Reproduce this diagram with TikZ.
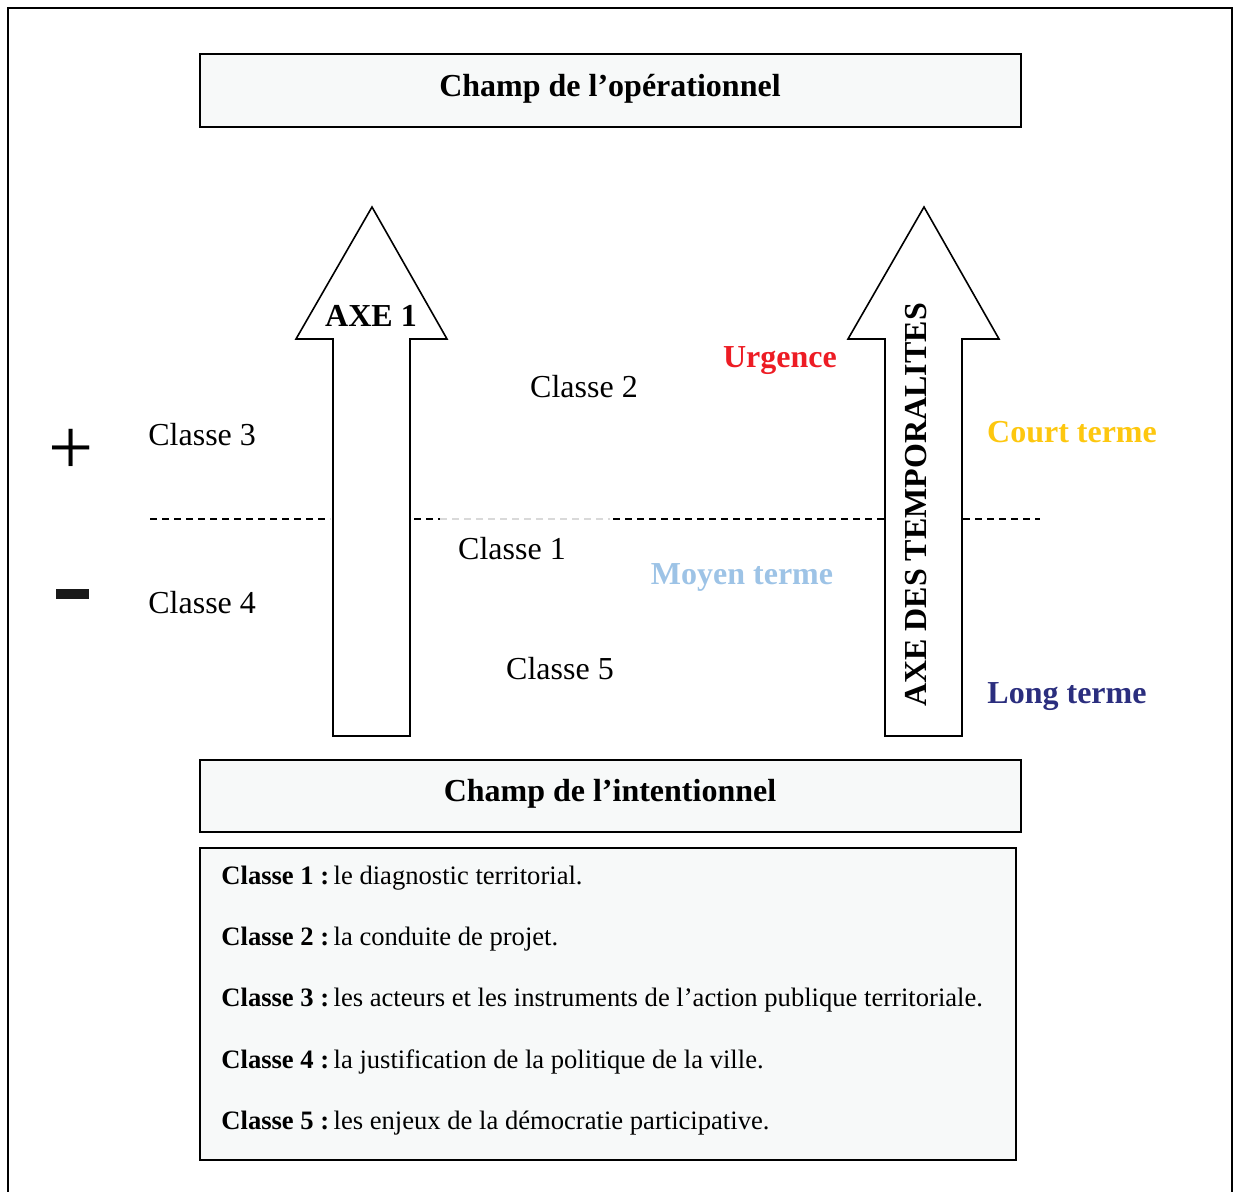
\documentclass[tikz,border=0pt]{standalone}
\usepackage{fontspec}
\setmainfont{Liberation Serif}
\definecolor{boxfill}{HTML}{F7F9F9}
\definecolor{urg}{HTML}{ED1C24}
\definecolor{court}{HTML}{FDC70F}
\definecolor{moyen}{HTML}{9DC3E6}
\definecolor{long}{HTML}{2B2E7E}
\definecolor{lightdash}{HTML}{D9D9D9}
\tikzset{
  fieldbox/.style={draw=black, line width=1.2pt, fill=boxfill},
  bigarrow/.style={draw=black, line width=0.8pt, fill=white, line join=miter},
  lbl/.style={inner sep=0pt, font=\fontsize{16}{19}\selectfont},
  blbl/.style={lbl, font=\fontsize{16}{19}\selectfont\bfseries},
  legend/.style={inner sep=0pt, anchor=west, font=\fontsize{13.3}{16}\selectfont},
  sep/.style={line width=0.6pt, dash pattern=on 3.5pt off 2.5pt},
}
\begin{document}
\begin{tikzpicture}[x=0.5pt, y=-0.5pt]
\useasboundingbox (0,0) rectangle (1239,1192);
\begin{scope}
\clip (0,0) rectangle (1239,1192);
\draw[line width=1.2pt] (8,8) rectangle (1232,1210);
\end{scope}

% top and bottom fields
\draw[fieldbox] (200,54) rectangle (1021,127);
\node[blbl] (op) at (610,89) {Champ de l’opérationnel};
\draw[fieldbox] (200,760) rectangle (1021,832);
\node[blbl] (int) at (610,794) {Champ de l’intentionnel};

% separator
\draw[sep] (150,519) -- (330,519);
\draw[sep] (414,519) -- (440,519);
\draw[sep, draw=lightdash] (440,519) -- (610,519);
\draw[sep] (613,519) -- (885,519);
\draw[sep] (963,519) -- (1040,519);

% arrow 1
\draw[bigarrow] (372,207) -- (447,339) -- (410,339) -- (410,736) -- (333,736) -- (333,339) -- (296,339) -- cycle;
\node[blbl] (axe1) at (371,316) {AXE 1};

% arrow 2
\draw[bigarrow] (924,207) -- (999,339) -- (962,339) -- (962,736) -- (885,736) -- (885,339) -- (848,339) -- cycle;
\node[blbl, rotate=90] (axet) at (916,505) {AXE DES TEMPORALITES};

% plus / minus
\node[inner sep=0pt, font=\fontsize{40}{40}\selectfont] (plus) at (71,452) {+};
\node[fill=black!90, inner sep=0pt, minimum width=16.5pt, minimum height=5pt] (minus) at (72,594) {};

% classes
\node[lbl, anchor=west] (c3) at (148,435) {Classe 3};
\node[lbl, anchor=west] (c4) at (148,603) {Classe 4};
\node[lbl] (c2) at (584,387) {Classe 2};
\node[lbl] (c1) at (512,549) {Classe 1};
\node[lbl] (c5) at (560,669) {Classe 5};

% temporalities
\node[blbl, text=urg] (urg) at (780,361) {Urgence};
\node[blbl, text=court] (ct) at (1072,432) {Court terme};
\node[blbl, text=moyen] (mt) at (742,577) {Moyen terme};
\node[blbl, text=long] (lt) at (1067,697) {Long terme};

% legend
\draw[fieldbox] (200,848) rectangle (1016,1160);
\node[legend] (l1) at (221,878) {\textbf{Classe 1 :}\,le diagnostic territorial.};
\node[legend] (l2) at (221,939) {\textbf{Classe 2 :}\,la conduite de projet.};
\node[legend] (l3) at (221,1000) {\textbf{Classe 3 :}\,les acteurs et les instruments de l’action publique territoriale.};
\node[legend] (l4) at (221,1062) {\textbf{Classe 4 :}\,la justification de la politique de la ville.};
\node[legend] (l5) at (221,1123) {\textbf{Classe 5 :}\,les enjeux de la démocratie participative.};
\end{tikzpicture}
\end{document}
